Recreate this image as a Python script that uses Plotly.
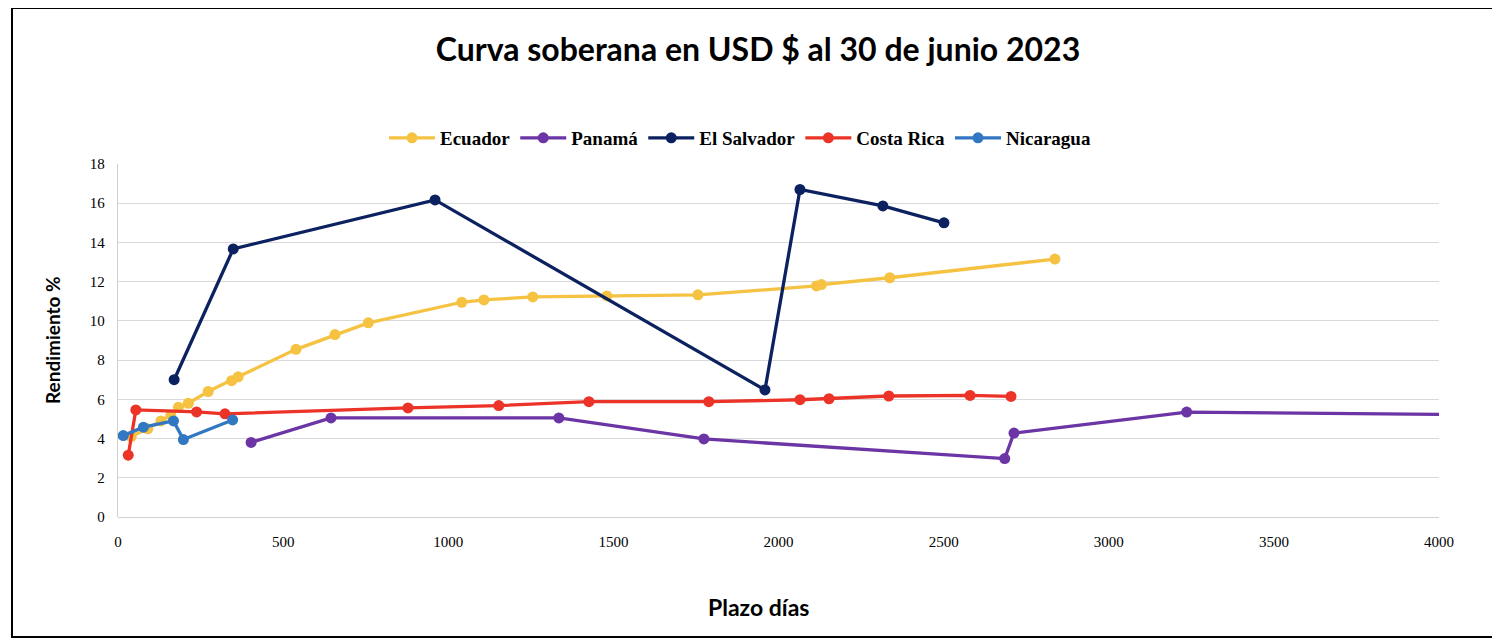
import plotly.graph_objects as go

# ---- data (días, rendimiento %) ----
ecuador_x = [40, 90, 130, 160, 183, 213, 273, 344, 364, 539, 657, 758, 1041, 1108, 1256, 1480, 1756, 2115, 2130, 2337, 2837]
ecuador_y = [4.1, 4.5, 4.9, 5.2, 5.6, 5.8, 6.4, 6.95, 7.15, 8.55, 9.3, 9.9, 10.95, 11.07, 11.22, 11.27, 11.33, 11.78, 11.85, 12.2, 13.15]

panama_x = [403, 645, 1335, 1774, 2685, 2713, 3236, 5500]
panama_y = [3.8, 5.05, 5.05, 3.98, 2.98, 4.28, 5.35, 4.99]

salvador_x = [170, 349, 960, 1959, 2065, 2316, 2501]
salvador_y = [7.0, 13.67, 16.17, 6.48, 16.7, 15.86, 15.0]

costarica_x = [31, 54, 238, 324, 878, 1153, 1426, 1789, 2065, 2153, 2334, 2580, 2704]
costarica_y = [3.15, 5.46, 5.36, 5.26, 5.56, 5.68, 5.88, 5.88, 5.98, 6.03, 6.17, 6.2, 6.15]

nicaragua_x = [16, 77, 168, 198, 347]
nicaragua_y = [4.15, 4.58, 4.9, 3.95, 4.95]

series = [
    ("Ecuador", ecuador_x, ecuador_y, "#F5C242"),
    ("Panamá", panama_x, panama_y, "#6B35A5"),
    ("El Salvador", salvador_x, salvador_y, "#0C2260"),
    ("Costa Rica", costarica_x, costarica_y, "#EB3327"),
    ("Nicaragua", nicaragua_x, nicaragua_y, "#3277C2"),
]

x_ticks = [0, 500, 1000, 1500, 2000, 2500, 3000, 3500, 4000]
y_ticks = [0, 2, 4, 6, 8, 10, 12, 14, 16, 18]

fig = go.Figure()
for name, xs, ys, col in series:
    fig.add_trace(go.Scatter(
        x=xs, y=ys, name=name, mode="lines+markers",
        line=dict(color=col, width=3.3),
        marker=dict(color=col, size=11),
        cliponaxis=True,
    ))

serif = "Liberation Serif"
sans = "Lato"

W, H = 1500, 638
L, R, T, B = 110, 69, 156, 129
PW, PH = W - L - R, H - T - B

def px_x(fx):
    return (fx - L) / PW

def px_y(fy):
    return 1 - (fy - T) / PH

fig.update_layout(
    width=W, height=H,
    paper_bgcolor="white", plot_bgcolor="white",
    margin=dict(l=L, r=R, t=T, b=B),
    title=dict(
        text="<b>Curva soberana en USD $ al 30 de junio 2023</b>",
        font=dict(family=sans, size=32, color="black"),
        x=750 / W, xanchor="center", y=1 - 42 / H, yanchor="middle",
    ),
    legend=dict(
        orientation="h", x=px_x(732), xanchor="center", y=px_y(130), yanchor="middle",
        font=dict(family=serif, size=19, color="black", weight="bold"),
        itemwidth=46, traceorder="normal",
    ),
    xaxis=dict(
        range=[0, 4000], tickvals=x_ticks, ticktext=[str(v) for v in x_ticks],
        showgrid=False, zeroline=False, showline=False,
        tickfont=dict(family=serif, size=15, color="black"),
        ticks="", ticklabelstandoff=14,
    ),
    yaxis=dict(
        range=[0, 18], tickvals=y_ticks, ticktext=[str(v) for v in y_ticks],
        showgrid=True, gridcolor="#D9D9D9", gridwidth=1.3,
        zeroline=True, zerolinecolor="#D0D0D0", zerolinewidth=1.3,
        showline=True, linecolor="#D0D0D0", linewidth=1.3,
        tickfont=dict(family=serif, size=15, color="black"),
        ticks="", ticklabelstandoff=9,
    ),
    annotations=[
        dict(text="<b>Plazo días</b>", xref="paper", yref="paper",
             x=px_x(750), y=px_y(599), xanchor="center", yanchor="middle",
             showarrow=False, font=dict(family=sans, size=23, color="black")),
        dict(text="<b>Rendimiento %</b>", xref="paper", yref="paper",
             x=px_x(44), y=px_y(332), xanchor="center", yanchor="middle",
             textangle=-90, showarrow=False, font=dict(family=sans, size=19, color="black")),
    ],
    shapes=[
        dict(type="rect", xref="paper", yref="paper",
             x0=px_x(4), x1=px_x(1700), y0=px_y(629), y1=px_y(0),
             line=dict(color="black", width=2), layer="below"),
    ],
)

fig.write_html("out.html")
